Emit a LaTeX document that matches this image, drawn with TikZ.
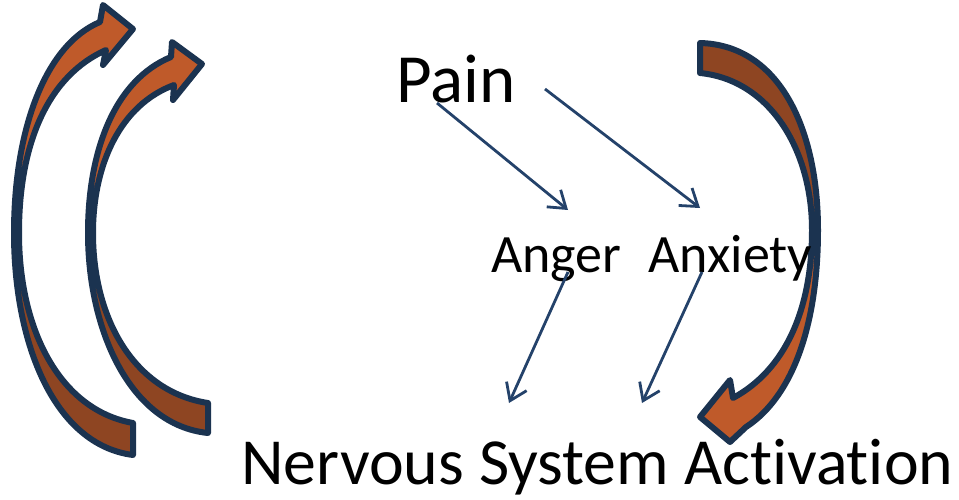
\documentclass[tikz,border=0pt]{standalone}
\usepackage{fontspec}
\setmainfont{Carlito}[Ligatures=NoCommon]
\usetikzlibrary{arrows.meta,calc}
\definecolor{navy}{HTML}{1B3350}
\definecolor{linkblue}{HTML}{24426A}
\definecolor{orangeL}{HTML}{BF5A2A}
\definecolor{orangeD}{HTML}{8E4522}
\tikzset{
  conn/.style={draw=linkblue, line width=2.8pt, -{Straight Barb[length=16pt,width=22pt,line width=2.8pt]}},
  lbl/.style={anchor=base west, inner sep=0pt, text=black},
  bigout/.style={draw=navy, line width=6pt, line join=round}
}
\begin{document}
\begin{tikzpicture}[x=1pt,y=-1pt]
\useasboundingbox (0,0) rectangle (959,500);
% ---- left outer arrow
\def\arrowA{(133,455) -- (133,423) .. controls (60,410) and (19,330) .. (19,233) .. controls (19,140) and (50,75) .. (106,50) -- (103,65) -- (133,29) -- (103,5) -- (100,22) .. controls (45,45) and (14,130) .. (14,233) .. controls (14,345) and (55,445) .. (133,455) -- cycle}
\fill[orangeD] \arrowA;
\begin{scope}\clip (0,0) rectangle (300,233); \fill[orangeL] \arrowA; \end{scope}
\draw[bigout] \arrowA;
% ---- left inner arrow
\def\arrowB{(208,433) -- (208,403) .. controls (135,392) and (93,320) .. (93,233) .. controls (93,165) and (120,105) .. (174,85) -- (173,100) -- (202,64) -- (172,42) -- (171,57) .. controls (115,80) and (88,150) .. (88,233) .. controls (88,330) and (130,425) .. (208,433) -- cycle}
\fill[orangeD] \arrowB;
\begin{scope}\clip (0,0) rectangle (300,233); \fill[orangeL] \arrowB; \end{scope}
\draw[bigout] \arrowB;
% ---- right arrow
\def\arrowC{(700,43) -- (700,73) .. controls (770,80) and (812,150) .. (812,230) .. controls (812,310) and (785,370) .. (733,398) -- (730,380) -- (700,417) -- (730,442) -- (746,427) .. controls (795,395) and (818,320) .. (818,230) .. controls (818,130) and (780,45) .. (700,43) -- cycle}
\fill[orangeL] \arrowC;
\begin{scope}\clip (600,0) rectangle (900,230); \fill[orangeD] \arrowC; \end{scope}
\draw[bigout] \arrowC;
% ---- text
\node[lbl, font=\fontsize{69}{69}\selectfont] (pain) at (396,103) {Pain};
\node[lbl, font=\fontsize{54}{54}\selectfont] (anger) at (491,272) {Anger};
\node[lbl, font=\fontsize{54}{54}\selectfont] (anxiety) at (648,272) {Anxiety};
\node[lbl, font=\fontsize{65.8}{66}\selectfont] (nsa) at (241,484) {Nervous System Activation};
% ---- connectors
\draw[conn] ($(pain.base west)+(41,0)$) -- ($(anger.base west)+(77,-62)$);
\draw[conn] ($(pain.base west)+(149,-14)$) -- ($(anxiety.base west)+(52,-64)$);
\draw[conn] ($(anger.base west)+(77,0)$) -- ($(nsa.base west)+(268,-81)$);
\draw[conn] ($(anxiety.base west)+(54,0)$) -- ($(nsa.base west)+(401,-81)$);
\end{tikzpicture}
\end{document}
